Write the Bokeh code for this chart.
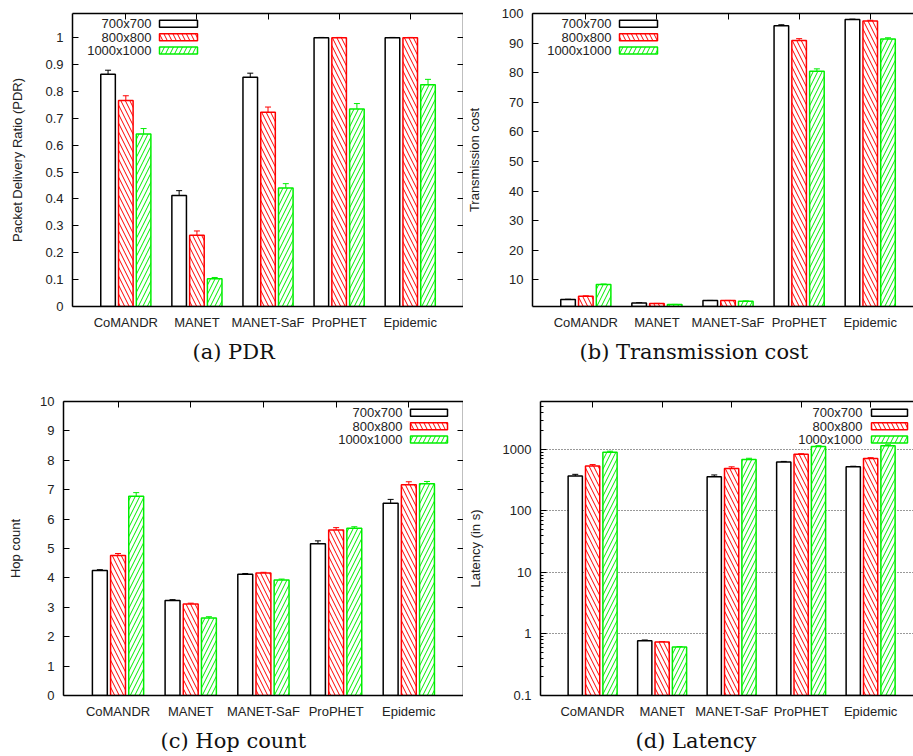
from bokeh.plotting import figure
from bokeh.models import (Range1d, LinearAxis, FixedTicker, Whisker, ColumnDataSource,
                          Title, LinearScale, TeeHead)
from bokeh.layouts import row, column
from bokeh.embed import file_html
from bokeh.resources import INLINE
from bokeh.core.properties import value

# ---------------- data ----------------
categories = ["CoMANDR", "MANET", "MANET-SaF", "ProPHET", "Epidemic"]
series = ["700x700", "800x800", "1000x1000"]

pdr_700 = [0.864, 0.413, 0.853, 1.0, 1.0]
pdr_800 = [0.766, 0.265, 0.723, 1.0, 1.0]
pdr_1000 = [0.642, 0.103, 0.441, 0.735, 0.825]
pdr_err_700 = [0.015, 0.018, 0.015, 0.001, 0.001]
pdr_err_800 = [0.018, 0.016, 0.019, 0.001, 0.001]
pdr_err_1000 = [0.020, 0.005, 0.016, 0.020, 0.020]
pdr_ticks = [0, 0.1, 0.2, 0.3, 0.4, 0.5, 0.6, 0.7, 0.8, 0.9, 1]

tc_700 = [3.35, 2.2, 3.0, 95.9, 98.0]
tc_800 = [4.5, 2.0, 3.0, 90.9, 97.5]
tc_1000 = [8.4, 1.66, 2.8, 80.5, 91.4]
tc_err_700 = [0.1, 0.05, 0.05, 0.3, 0.1]
tc_err_800 = [0.1, 0.05, 0.05, 0.6, 0.2]
tc_err_1000 = [0.2, 0.05, 0.1, 0.8, 0.4]
tc_ticks = [10, 20, 30, 40, 50, 60, 70, 80, 90, 100]

hop_700 = [4.25, 3.23, 4.12, 5.16, 6.54]
hop_800 = [4.76, 3.11, 4.17, 5.63, 7.17]
hop_1000 = [6.78, 2.64, 3.93, 5.69, 7.20]
hop_err_700 = [0.03, 0.03, 0.03, 0.10, 0.13]
hop_err_800 = [0.07, 0.03, 0.02, 0.08, 0.10]
hop_err_1000 = [0.12, 0.04, 0.03, 0.05, 0.08]
hop_ticks = [0, 1, 2, 3, 4, 5, 6, 7, 8, 9, 10]

lat_700 = [368, 0.778, 359, 622, 522]
lat_800 = [536, 0.74, 491, 830, 713]
lat_1000 = [894, 0.614, 687, 1119, 1147]
lat_err_700 = [25, 0.02, 25, 15, 10]
lat_err_800 = [30, 0.01, 30, 20, 20]
lat_err_1000 = [40, 0.01, 30, 30, 40]
lat_ticks = [0.1, 1, 10, 100, 1000]
lat_tick_labels = ["0.1", "1", "10", "100", "1000"]

# ---------------- styling ----------------
COLORS = ["#000000", "#ff0000", "#00ee00"]
HATCH = [None, "\\", "/"]
SANS = "Liberation Sans"
SERIF = "DejaVu Serif"
TXT = "#222222"
HSCALE = 9


def style_axis(ax, ticker, labels=True, tick_in=6, minor=None):
    ax.ticker = ticker
    ax.axis_line_color = "black"
    ax.axis_line_width = 1.5
    ax.major_tick_line_color = "black"
    ax.major_tick_line_width = 1
    ax.major_tick_in = tick_in
    ax.major_tick_out = 0
    ax.minor_tick_in = 3
    ax.minor_tick_out = 0
    ax.minor_tick_line_color = "black" if minor else None
    if labels:
        ax.major_label_text_font = SANS
        ax.major_label_text_font_size = "13px"
        ax.major_label_text_color = TXT
    else:
        ax.major_label_text_font_size = "0px"
        ax.major_label_text_color = None
        ax.major_label_standoff = 0


def panel(vals, errs, y_start, y_end, yticks, ylabel, caption, cap_offset,
          fw, fh, unit, bl, br, bt, bb, leg_text_x, leg_box, leg_rows,
          ylabel_standoff, right_axis, log=False, tick_labels=None, grid=False):
    x_end = -0.75 + fw / unit
    kw = dict(y_axis_type="log") if log else {}
    p = figure(frame_width=fw, frame_height=fh, x_range=Range1d(-0.75, x_end),
               y_range=Range1d(y_start, y_end), output_backend="svg",
               toolbar_location=None, min_border_left=bl, min_border_right=br,
               min_border_top=bt, min_border_bottom=bb, **kw)
    p.outline_line_color = None
    p.background_fill_color = "white"
    p.border_fill_color = "white"
    p.xgrid.grid_line_color = None
    if grid:
        p.ygrid.grid_line_color = "#333333"
        p.ygrid.grid_line_dash = "1 2"
        p.ygrid.grid_line_width = 1
    else:
        p.ygrid.grid_line_color = None

    xt = FixedTicker(ticks=list(range(len(categories))))
    style_axis(p.xaxis[0], xt, tick_in=0)
    p.xaxis[0].major_label_overrides = {i: c for i, c in enumerate(categories)}
    p.xaxis[0].major_label_standoff = 8

    if log:
        minors = [m * t for t in yticks[:-1] for m in range(2, 10)] + \
                 [m * yticks[-1] for m in range(2, 6)]
        yt = FixedTicker(ticks=yticks, minor_ticks=minors)
    else:
        yt = FixedTicker(ticks=yticks)
    style_axis(p.yaxis[0], yt, minor=log)
    if tick_labels:
        p.yaxis[0].major_label_overrides = {t: l for t, l in zip(yticks, tick_labels)}
    p.yaxis[0].major_label_standoff = 9
    p.yaxis[0].axis_label = ylabel
    p.yaxis[0].axis_label_text_font = SANS
    p.yaxis[0].axis_label_text_font_size = "13px"
    p.yaxis[0].axis_label_text_font_style = "normal"
    p.yaxis[0].axis_label_text_color = TXT
    p.yaxis[0].axis_label_standoff = ylabel_standoff

    top_ax = LinearAxis()
    style_axis(top_ax, FixedTicker(ticks=list(range(len(categories)))), labels=False)
    p.add_layout(top_ax, "above")
    if right_axis:
        rax = LinearAxis()
        style_axis(rax, FixedTicker(ticks=yticks), labels=False)
        p.add_layout(rax, "right")

    offsets = [-0.25, 0.0, 0.25]
    base = y_start if log else 0
    for k in range(3):
        xs = [i + offsets[k] for i in range(len(categories))]
        src = ColumnDataSource(dict(x=xs, top=vals[k],
                                    upper=[v + e for v, e in zip(vals[k], errs[k])],
                                    lower=[v - e for v, e in zip(vals[k], errs[k])]))
        hk = {}
        if HATCH[k]:
            hk = dict(hatch_pattern=HATCH[k], hatch_color=COLORS[k], hatch_scale=HSCALE,
                      hatch_weight=1)
        p.vbar(x="x", top="top", bottom=base, width=0.205, source=src,
               fill_color="white", line_color=COLORS[k], line_width=1.5, **hk)
        p.add_layout(Whisker(source=src, base="x", upper="upper", lower="lower",
                             line_color=COLORS[k], line_width=1,
                             upper_head=TeeHead(size=6, line_color=COLORS[k], line_width=1),
                             lower_head=TeeHead(size=6, line_color=COLORS[k], line_width=1)))

    # legend (frame pixel coordinates)
    p.extra_x_ranges = {"px": Range1d(0, fw)}
    p.extra_y_ranges = {"px": Range1d(0, fh)}
    p.extra_y_scales = {"px": LinearScale()}
    for k in range(3):
        yc = fh - leg_rows[k]
        hk = {}
        if HATCH[k]:
            hk = dict(hatch_pattern=HATCH[k], hatch_color=COLORS[k], hatch_scale=HSCALE,
                      hatch_weight=1)
        p.quad(left=[leg_box[0]], right=[leg_box[1]], top=[yc + 3.5], bottom=[yc - 3.5],
               x_range_name="px", y_range_name="px", fill_color="white",
               line_color=COLORS[k], line_width=1.5, **hk)
        p.text(x=[leg_text_x], y=[yc], text=[series[k]], x_range_name="px",
               y_range_name="px", text_align="right", text_baseline="middle",
               text_font=value(SANS), text_font_size="13px", text_color=TXT)

    p.add_layout(Title(text=caption, align="left", offset=cap_offset,
                       text_font=SERIF, text_font_size="21px", text_font_style="normal",
                       text_color="#111111", standoff=10), "below")
    return p


pa = panel([pdr_700, pdr_800, pdr_1000], [pdr_err_700, pdr_err_800, pdr_err_1000],
           0, 1.09, pdr_ticks, "Packet Delivery Ratio (PDR)", "(a) PDR", 120,
           fw=391, fh=293, unit=71.1, bl=72, br=0, bt=13, bb=85,
           leg_text_x=79, leg_box=(87, 125), leg_rows=(10.3, 23.7, 37),
           ylabel_standoff=17, right_axis=True)
pb = panel([tc_700, tc_800, tc_1000], [tc_err_700, tc_err_800, tc_err_1000],
           1.0, 100, tc_ticks, "Transmission cost", "(b) Transmission cost", 47,
           fw=381, fh=293, unit=71.1, bl=69, br=0, bt=13, bb=85,
           leg_text_x=79, leg_box=(87, 125), leg_rows=(10.3, 23.7, 37),
           ylabel_standoff=17, right_axis=False)
pc = panel([hop_700, hop_800, hop_1000], [hop_err_700, hop_err_800, hop_err_1000],
           0, 10, hop_ticks, "Hop count", "(c) Hop count", 97,
           fw=400, fh=294, unit=72.7, bl=63, br=0, bt=10, bb=61,
           leg_text_x=339, leg_box=(347, 384), leg_rows=(11.3, 24.7, 38),
           ylabel_standoff=14, right_axis=True)
pd_ = panel([lat_700, lat_800, lat_1000], [lat_err_700, lat_err_800, lat_err_1000],
            0.1, 6000, lat_ticks, "Latency (in s)", "(d) Latency", 95,
            fw=373, fh=294, unit=69.5, bl=77, br=0, bt=10, bb=61,
            leg_text_x=322, leg_box=(331, 367), leg_rows=(11.3, 24.7, 38),
            ylabel_standoff=17, right_axis=False, log=True,
            tick_labels=lat_tick_labels, grid=True)

layout = column(row(pa, pb), row(pc, pd_))
open("out.html", "w").write(file_html(layout, INLINE))
